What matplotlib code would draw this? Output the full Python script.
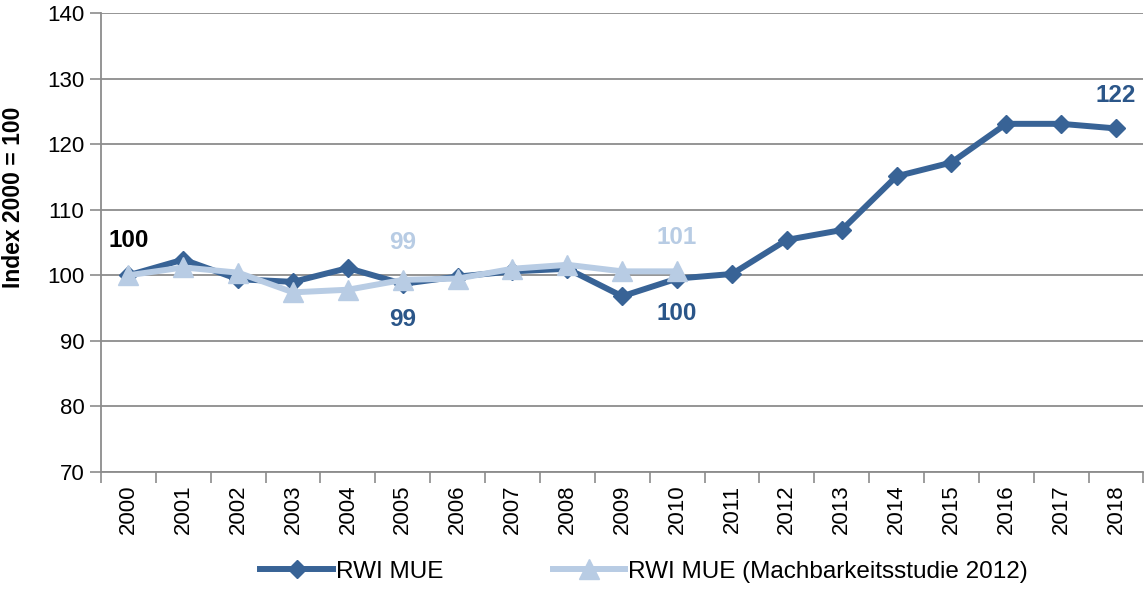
import numpy as np
import matplotlib.pyplot as plt

plt.rcParams['font.family'] = ['Liberation Sans Narrow', 'Liberation Sans', 'DejaVu Sans']

# ==== data ====
years = [str(y) for y in range(2000, 2019)]
rwi_mue = [100.0, 102.4, 99.4, 99.0, 101.1, 98.7, 99.8, 100.6, 101.0, 96.8, 99.5,
           100.2, 105.4, 106.9, 115.1, 117.2, 123.1, 123.1, 122.4]
rwi_mue_2012 = [100.0, 101.2, 100.4, 97.4, 97.8, 99.3, 99.5, 101.0, 101.6, 100.6, 100.6]

dark = '#386396'
light = '#B8CCE4'
dark_txt = '#2B5689'

fig = plt.figure(figsize=(11.44, 5.92), dpi=100)
ax = fig.add_axes([0.0883, 0.2027, 0.9112, 0.7753])

x = np.arange(len(years))
x2 = np.arange(len(rwi_mue_2012))

ax.plot(x, rwi_mue, color=dark, lw=4.3, marker='D', ms=9, label='RWI MUE', zorder=3)
ax.plot(x2, rwi_mue_2012, color=light, lw=4.3, marker='^', ms=14,
        label='RWI MUE (Machbarkeitsstudie 2012)', zorder=4)

# Datenbeschriftungen
lab = dict(ha='center', fontsize=17.5, fontweight='bold')
ax.text(0, 103.5, '100', va='bottom', color='black', **lab)
ax.text(5, 103.2, '99', va='bottom', color=light, **lab)
ax.text(5, 95.0, '99', va='top', color=dark_txt, **lab)
ax.text(10, 104.0, '101', va='bottom', color=light, **lab)
ax.text(10, 96.0, '100', va='top', color=dark_txt, **lab)
ax.text(18, 125.6, '122', va='bottom', color=dark_txt, **lab)

ax.set_xlim(-0.5, len(years) - 0.5)
ax.set_ylim(70, 140)
ax.set_yticks(np.arange(70, 141, 10))
ax.set_xticks(x)
ax.set_xticklabels(years, rotation=90)
ax.set_xticks(np.arange(-0.5, len(years), 1), minor=True)
ax.tick_params(axis='x', which='major', length=0, pad=9, labelsize=16)
ax.tick_params(axis='x', which='minor', length=8, color='#8c8c8c', width=1.2)
ax.tick_params(axis='y', length=8, color='#8c8c8c', width=1.2, labelsize=16, pad=4)

ax.grid(axis='y', color='#8c8c8c', lw=1.3)
ax.set_axisbelow(True)
for s in ['top', 'right']:
    ax.spines[s].set_visible(False)
ax.spines['left'].set_color('#8c8c8c')
ax.spines['left'].set_linewidth(1.3)
ax.spines['bottom'].set_color('#8c8c8c')
ax.spines['bottom'].set_linewidth(1.3)

ax.set_ylabel('Index 2000 = 100', fontsize=16.5, fontweight='bold', va='center')
ax.yaxis.set_label_coords(-0.0835, 0.599)

fig.legend(loc='center', bbox_to_anchor=(0.563, 0.034), ncol=2, frameon=False,
           fontsize=17.5, handlelength=3, columnspacing=4.5, handletextpad=0.1)

fig.savefig('out.png', dpi=100)
